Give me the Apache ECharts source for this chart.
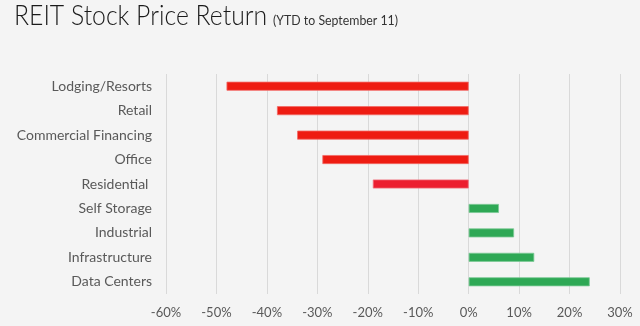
<!DOCTYPE html>
<html><head><meta charset="utf-8">
<script src="https://cdn.jsdelivr.net/npm/echarts@6/dist/echarts.min.js"></script>
<style>html,body{margin:0;padding:0;background:#f4f4f4}#c{width:640px;height:326px}</style>
</head><body><div id="c"></div>
<script>
const titleText = 'REIT Stock Price Return';
const subtitleText = '(YTD to September 11)';
const categories = ['Lodging/Resorts','Retail','Commercial Financing','Office','Residential ','Self Storage','Industrial','Infrastructure','Data Centers'];
const values = [-48, -38, -34, -29, -19, 6, 9, 13, 24];
const colors = ['#ee1c12','#ee1c12','#ee1c12','#ee1c12','#ec1f30','#2ea855','#2ea855','#2ea855','#2ea855'];
const borders = ['#f26a66','#f26a66','#f26a66','#f26a66','#f0707c','#7cc996','#7cc996','#7cc996','#7cc996'];
const FONT = 'Lato';
const chart = echarts.init(document.getElementById('c'), null, {renderer:'canvas'});
chart.setOption({
  backgroundColor:'#f4f4f4',
  animation:false,
  graphic:[
    {type:'text', x:14, y:2, scaleX:0.885,
     style:{text:titleText, fontFamily:FONT, fontSize:28, fontWeight:300, fill:'#1a1a1a', verticalAlign:'top'}},
    {type:'text', x:273, y:13, scaleX:0.88,
     style:{text:subtitleText, fontFamily:FONT, fontSize:14, fontWeight:'normal', fill:'#333333', verticalAlign:'top'}}
  ],
  grid:{left:166, right:20, top:74, bottom:32},
  xAxis:{
    type:'value', min:-60, max:30, interval:10,
    axisLabel:{formatter:'{value}%', fontFamily:FONT, fontSize:13, color:'#595959', margin:12},
    splitLine:{show:true, lineStyle:{color:'#d9d9d9', width:1}},
    axisLine:{show:false}, axisTick:{show:false}
  },
  yAxis:{
    type:'category', data:categories, inverse:true,
    axisLabel:{fontFamily:FONT, fontSize:14, color:'#595959', margin:14},
    axisLine:{show:false}, axisTick:{show:false}, splitLine:{show:false}
  },
  series:[{
    type:'bar', barWidth:9,
    data: values.map((v,i)=>({value:v, itemStyle:{color:colors[i], borderColor:borders[i], borderWidth:0.8}}))
  }]
});
</script></body></html>
